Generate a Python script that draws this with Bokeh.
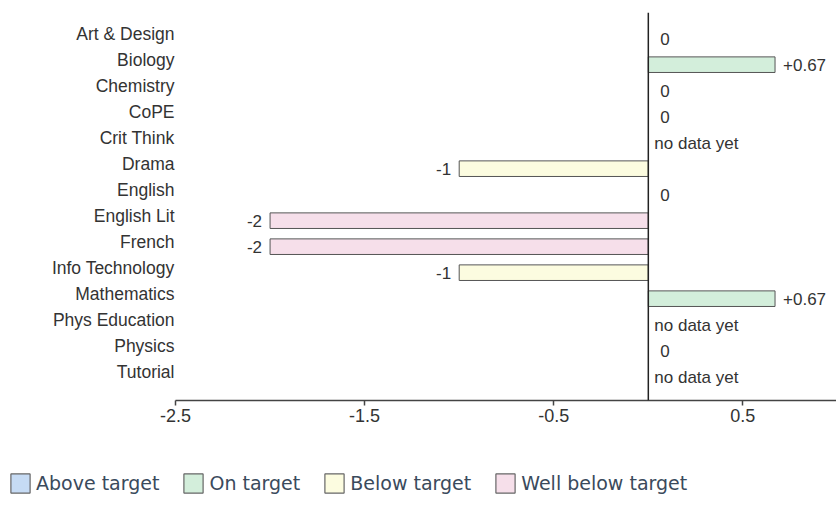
from bokeh.plotting import figure
from bokeh.models import (ColumnDataSource, Range1d, FixedTicker, CustomJSTickFormatter,
                          Span, Legend, LegendItem)
from bokeh.layouts import column
from bokeh.core.properties import value
from bokeh.embed import file_html
from bokeh.resources import INLINE

# ---- data ----
subjects = ["Art & Design", "Biology", "Chemistry", "CoPE", "Crit Think", "Drama",
            "English", "English Lit", "French", "Info Technology", "Mathematics",
            "Phys Education", "Physics", "Tutorial"]
scores = [0, 0.67, 0, 0, None, -1, 0, -2, -2, -1, 0.67, None, 0, None]
statuses = [None, "On target", None, None, None, "Below target", None,
            "Well below target", "Well below target", "Below target", "On target",
            None, None, None]
legend_labels = ["Above target", "On target", "Below target", "Well below target"]
legend_colors = ["#c6dbf4", "#d3eedb", "#fcfce0", "#f6dfea"]
x_ticks = [-2.5, -1.5, -0.5, 0.5]

BAR_SHIFT = 0.18
LABEL_SHIFT = 0.2

W = 836
p = figure(width=W, height=440, output_backend="svg", toolbar_location=None,
           x_range=Range1d(-2.5, 0.995), y_range=Range1d(len(subjects) + 0.096, -0.827),
           min_border_left=175, min_border_right=0, min_border_top=12, min_border_bottom=40)
p.outline_line_color = None
p.xgrid.visible = False
p.ygrid.visible = False
p.background_fill_color = "white"
p.border_fill_color = "white"

# bars per status
for lab, col in zip(legend_labels, legend_colors):
    idx = [i for i, s in enumerate(statuses) if s == lab and scores[i] not in (None, 0)]
    src = ColumnDataSource(dict(y=[i + BAR_SHIFT for i in idx],
                                right=[scores[i] for i in idx]))
    p.hbar(y="y", left=0, right="right", height=0.6, source=src,
           fill_color=col, line_color="#555555", line_width=1)

# value labels
def fmt(v):
    if v is None:
        return "no data yet"
    if v == 0:
        return "0"
    if float(v).is_integer():
        return str(int(v))
    return f"{v:+g}"

groups = {"pos": ([], [], []), "neg": ([], [], []), "zero": ([], [], []), "none": ([], [], [])}
for i, v in enumerate(scores):
    key = "none" if v is None else ("zero" if v == 0 else ("pos" if v > 0 else "neg"))
    groups[key][0].append(0 if v is None else v)
    groups[key][1].append(i + LABEL_SHIFT)
    groups[key][2].append(fmt(v))

label_font = value("Liberation Sans")
for key, align, off in [("pos", "left", 8), ("neg", "right", -8), ("zero", "left", 12), ("none", "left", 6)]:
    xs, ys, ts = groups[key]
    p.text(x=xs, y=ys, text=ts, text_align=align, text_baseline="middle", x_offset=off,
           text_font=label_font, text_font_size="17px", text_color="#333333")

# zero line
p.add_layout(Span(location=0, dimension="height", line_color="#222222", line_width=1.5))

# axes
xa = p.xaxis[0]
xa.ticker = FixedTicker(ticks=x_ticks)
xa.formatter = CustomJSTickFormatter(code="return String(tick);")
xa.minor_tick_line_color = None
xa.major_tick_out = 5
xa.major_tick_in = 0
xa.axis_line_color = "#444444"
xa.axis_line_width = 1.5
xa.major_tick_line_color = "#444444"
xa.major_tick_line_width = 1.5
xa.major_label_text_font = "Liberation Sans"
xa.major_label_text_font_size = "18px"
xa.major_label_text_color = "#333333"
xa.major_label_standoff = 3

ya = p.yaxis[0]
ya.ticker = FixedTicker(ticks=list(range(len(subjects))))
ya.formatter = CustomJSTickFormatter(args=dict(names=subjects),
                                     code="const i = Math.round(tick); return (i >= 0 && i < names.length) ? names[i] : '';")
ya.axis_line_color = None
ya.major_tick_line_color = None
ya.minor_tick_line_color = None
ya.major_tick_out = 0
ya.major_tick_in = 0
ya.major_label_standoff = 1
ya.major_label_text_font = "Liberation Sans"
ya.major_label_text_font_size = "17.5px"
ya.major_label_text_color = "#333333"

# legend strip (its own small figure, not frame-aligned with the chart)
LH = 65
q = figure(width=W, height=LH, output_backend="svg", toolbar_location=None,
           x_range=Range1d(0, 1), y_range=Range1d(0, 1),
           x_axis_type=None, y_axis_type=None,
           min_border_left=0, min_border_right=0, min_border_top=0, min_border_bottom=0)
q.frame_align = False
q.outline_line_color = None
q.xgrid.visible = False
q.ygrid.visible = False
q.border_fill_color = "white"
nan = float("nan")
items = []
for lab, col in zip(legend_labels, legend_colors):
    # one NaN row: nothing is drawn in the strip, but the swatch is
    r = q.hbar(y=[nan], left=[nan], right=[nan], height=0.5,
               fill_color=col, line_color="#666666", line_width=1.2)
    items.append(LegendItem(label=lab, renderers=[r]))
legend = Legend(items=items, orientation="horizontal", location=(8, 10),
                glyph_width=24, glyph_height=24, label_standoff=4, spacing=22,
                padding=0, margin=0, border_line_alpha=0, background_fill_alpha=0,
                label_text_font="DejaVu Sans", label_text_font_size="19px",
                label_text_color="#3a4a5c", label_height=24)
q.add_layout(legend, "center")

layout = column(p, q, spacing=0)
open("out.html", "w").write(file_html(layout, INLINE))
